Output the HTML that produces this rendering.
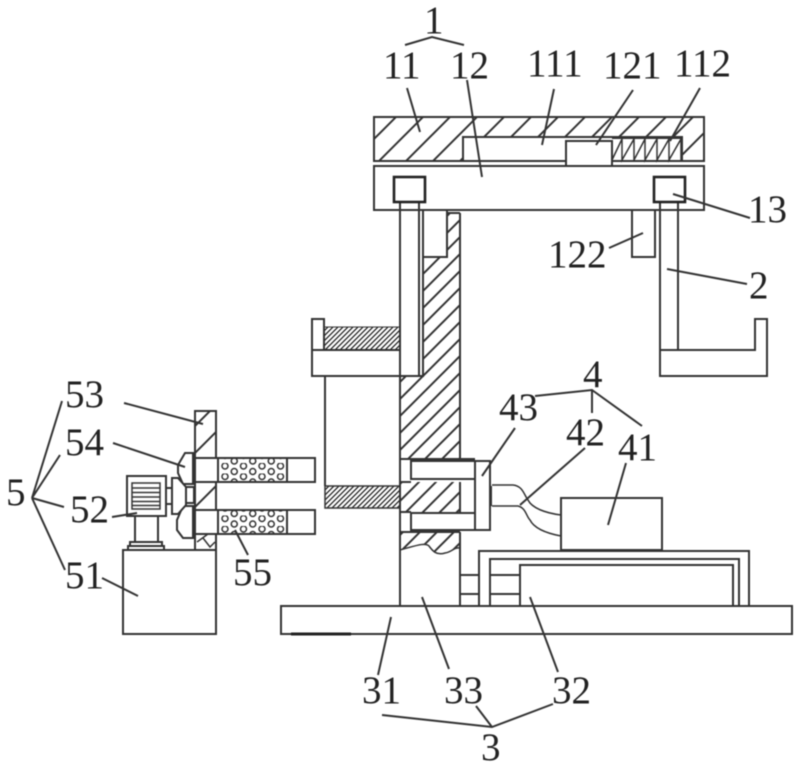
<!DOCTYPE html>
<html><head><meta charset="utf-8"><style>
html,body{margin:0;padding:0;background:#fff;width:800px;height:767px;overflow:hidden}
svg{display:block;filter:blur(.4px)}
text{font-family:"Liberation Serif",serif;font-size:39px;fill:#222}
.s{fill:none;stroke:#333;stroke-width:2}
.w{fill:#fff;stroke:#333;stroke-width:2}
.t{fill:none;stroke:#333;stroke-width:1.5}
</style></head><body>
<svg width="800" height="767" viewBox="0 0 800 767" xmlns="http://www.w3.org/2000/svg">
<defs>
<pattern id="h1" width="27" height="27" patternUnits="userSpaceOnUse"><path d="M-3 30L30 -3M-3 3L3 -3M24 30L30 24" stroke="#333" stroke-width="2" fill="none"/></pattern>
<pattern id="h2" width="17" height="17" patternUnits="userSpaceOnUse"><path d="M-3 20L20 -3M-3 3L3 -3M14 20L20 14" stroke="#333" stroke-width="2" fill="none"/></pattern>
<pattern id="h3" width="5" height="5" patternUnits="userSpaceOnUse"><path d="M-1 6L6 -1M-1 1L1 -1M4 6L6 4" stroke="#222" stroke-width="1.3" fill="none"/></pattern>
<pattern id="d" width="18.500" height="10.500" patternUnits="userSpaceOnUse" x="221" y="463"><circle cx="4" cy="3" r="3" fill="none" stroke="#333" stroke-width="1.5"/><circle cx="13.250" cy="8.500" r="3" fill="none" stroke="#333" stroke-width="1.5"/><circle cx="13.250" cy="-2" r="3" fill="none" stroke="#333" stroke-width="1.5"/></pattern>
</defs>

<!-- top plates -->
<rect x="374" y="117" width="330" height="44" fill="url(#h1)" stroke="#333" stroke-width="2"/>
<rect x="463" y="137" width="219" height="24" class="w"/>
<rect x="566" y="141" width="46" height="25" class="w"/>
<path class="t" d="M612 160L622 139V160L634 139V160L645 139V160L657 139V160L669 139V160L681 139V160"/>
<path class="s" d="M612 138H682V161"/>
<rect x="374" y="166" width="330" height="44" class="w"/>

<!-- column -->
<rect x="400" y="376" width="60" height="82" fill="url(#h2)"/>
<rect x="423" y="257" width="37" height="119" fill="url(#h2)"/>
<rect x="447" y="213" width="13" height="44" fill="url(#h2)"/>
<rect x="400" y="482" width="60" height="30" fill="url(#h2)"/>
<path d="M400 532H460V548C454 547 452 552 445 553C436 556 432 550 429 546C425 542 415 546 400 550Z" fill="url(#h2)"/>
<path class="t" d="M400 550C415 546 425 542 429 546C432 550 436 556 445 553C452 552 454 547 460 548"/>
<path class="s" d="M460 213V458M460 482V512M460 532V606M400 376V606M447 213H460"/>

<!-- left rod and channel -->
<rect x="423" y="210" width="24" height="47" class="w"/>
<path class="s" d="M423 257V376H400M419 202V376M400 202V376"/>
<rect x="394" y="177" width="31" height="25" fill="#fff" stroke="#222" stroke-width="2.600"/>

<!-- arm left -->
<rect x="312" y="350" width="88" height="26" class="w"/>
<rect x="312" y="319" width="12" height="31" class="w"/>
<rect x="324" y="327" width="76" height="23" fill="url(#h3)" stroke="#333" stroke-width="1"/>
<rect x="325" y="486" width="75" height="22" fill="url(#h3)" stroke="#333" stroke-width="1.500"/>
<path d="M325 376V486" class="s"/>

<!-- right arm -->
<rect x="632" y="210" width="23" height="47" class="w"/>
<path class="s" d="M660 202V350M678 202V350M660 350H755V319H767V376H660Z"/>
<rect x="654" y="177" width="31" height="25" fill="#fff" stroke="#222" stroke-width="2.600"/>

<!-- clamp 43 -->
<path class="s" d="M400 459H475M400 532H460M400 482H411M400 512H411"/>
<rect x="411" y="461" width="64" height="18" class="w"/>
<rect x="411" y="513" width="64" height="17" class="w"/>
<rect x="475" y="461" width="15" height="69" class="w"/>
<path class="s" d="M491 486V506"/>
<path class="t" d="M492 485H513C523 486 524 495 528 500C532 508 545 513 561 515"/>
<path class="t" d="M492 506H518C526 508 526 516 530 520C534 528 545 533 561 536"/>
<rect x="561" y="498" width="101" height="52" class="w"/>

<!-- housing -->
<path class="s" d="M479 606V551H749V606M490 606V559H739V606M520 606V565H733V606"/>
<path class="s" d="M460 575H479M460 594H479M490 575H520M490 594H520"/>
<rect x="281" y="606" width="511" height="28" class="w"/>
<path d="M291 634H351" stroke="#222" stroke-width="3"/>

<!-- left assembly -->
<rect x="195" y="411" width="21" height="139" fill="url(#h1)" stroke="#333" stroke-width="2"/>
<rect x="195" y="458" width="120" height="24" class="w"/>
<rect x="195" y="510" width="120" height="24" class="w"/>
<rect x="220" y="459" width="67" height="22" fill="url(#d)"/>
<rect x="220" y="511" width="67" height="22" fill="url(#d)"/>
<path class="s" d="M218 458V482M287 458V482M218 510V534M287 510V534"/>
<path d="M196 535H215V549H196Z" fill="#fff"/>
<path class="t" d="M197 542L208 534M203 538L210 547L215 542"/>
<rect x="186" y="487" width="8" height="16" class="w"/>
<path class="w" d="M193 453H185L178 465V473L183 484H193Z"/>
<path class="w" d="M193 506H183L177 520V530L183 538H193Z"/>
<path class="w" d="M172 478H178L186 487V505L178 514H172Z"/>
<path class="s" d="M166 488H172M166 504H172"/>
<rect x="127" y="476" width="39" height="40" class="w"/>
<rect x="132" y="483" width="28" height="26" fill="#fff" stroke="#333" stroke-width="1.500"/>
<path d="M132 488H160M132 492.500H160M132 497H160M132 501.500H160M132 505.500H160" stroke="#333" stroke-width="1.500"/>
<path class="s" d="M135 516V543M158 516V543"/>
<path class="w" d="M130 546V542H162V546Z"/>
<path class="w" d="M128 550V546H164V550Z"/>
<rect x="123" y="550" width="93" height="84" class="w"/>

<!-- leader lines -->
<path class="s" d="M407 88L420 132M467 80L482 177M554 89L542 145M633 90L596 145M700 88L670 141M673 194L750 218M667 269L747 284M609 248L643 233M382 715L492 727L553 704M476 706L492 727M391 617L378 675M422 597L449 669M530 597L558 672"/>
<path class="s" d="M405 45L432 37L464 45"/>
<path class="s" d="M535 396L592 390L642 426M592 390L592 413"/>
<path class="s" d="M515 428L482 476M585 448L520 505M626 463L608 525"/>
<path class="s" d="M124 403L203 424M113 443L185 467M112 517L137 513M102 578L138 596M235 530L248 555"/>
<path class="s" d="M62 401L32 498L60 455M32 498L64 507M32 498L65 570"/>

<!-- labels -->
<text x="424" y="33">1</text>
<text x="383" y="78">11</text>
<text x="450" y="78">12</text>
<text x="527" y="76">111</text>
<text x="603" y="78">121</text>
<text x="674" y="76">112</text>
<text x="748" y="222">13</text>
<text x="548" y="267">122</text>
<text x="749" y="298">2</text>
<text x="583" y="387">4</text>
<text x="499" y="420">43</text>
<text x="566" y="445">42</text>
<text x="618" y="460">41</text>
<text x="65" y="407">53</text>
<text x="65" y="455">54</text>
<text x="6" y="505">5</text>
<text x="70" y="522">52</text>
<text x="65" y="588">51</text>
<text x="233" y="585">55</text>
<text x="362" y="703">31</text>
<text x="444" y="703">33</text>
<text x="552" y="703">32</text>
<text x="481" y="760">3</text>
</svg>
</body></html>
